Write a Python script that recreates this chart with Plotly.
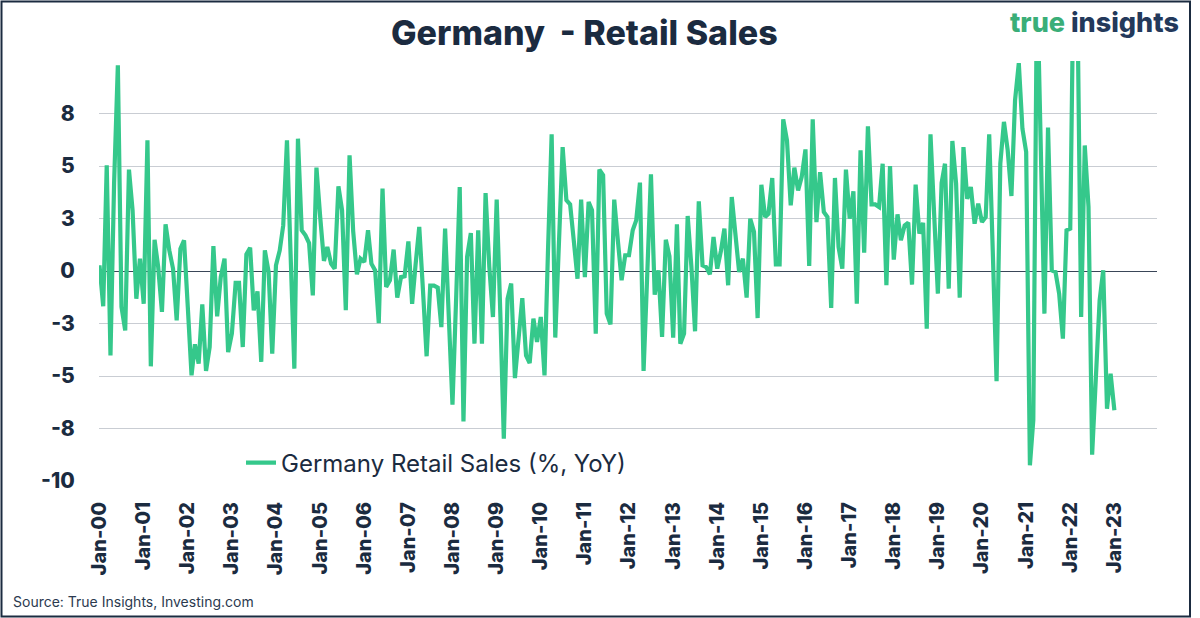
import pandas as pd
import plotly.graph_objects as go

# ---- data (Germany retail sales, % YoY, monthly Jan-2000 .. Jan-2023) ----
sales_2000_2005 = [
    0.27, -1.68, 5.03, -4.02, 4.2, 9.8, -1.71, -2.83, 4.83, 2.89, -1.32, 0.59,
    -1.56, 6.22, -4.54, 1.49, 0.19, -1.95, 2.22, 0.98, 0.11, -2.35, 1.06, 1.46,
    -1.71, -4.97, -3.49, -4.41, -1.59, -4.76, -3.62, 1.19, -2.16, -0.29, 0.59, -3.86,
    -2.98, -0.57, -0.57, -3.62, 0.79, 1.11, -1.87, -0.97, -4.33, 0.98, -0.05, -3.94,
    0.27, 0.98, 2.17, 6.22, 0.8, -4.65, 6.3, 1.94, 1.70, 1.33, -1.16, 4.92,
    2.57, 0.48, 1.14, 0.35, 0.11, 4.03, 2.89, -1.87, 5.51, 1.9, -0.16, 0.59,
]
sales_2006_2011 = [
    0.43, 1.94, 0.35, 0.03, -2.48, 3.92, -0.76, -0.44, 1.02, -1.27, -0.29, -0.25,
    1.41, -1.56, 0.27, 2.10, -0.84, -4.06, -0.70, -0.70, -0.79, -2.67, 2.02, -2.19,
    -6.37, -1.19, 4.0, -7.16, 0.67, 1.81, -3.46, 1.94, -3.46, 3.71, 0.19, -2.19,
    3.40, -2.19, -7.98, -1.32, -0.60, -5.10, -3.14, -1.29, -4.02, -4.38, -2.27, -3.38,
    -2.19, -4.97, 0.83, 6.51, -3.17, 1.38, 5.90, 3.37, 3.17, 1.46, -0.37, 3.40,
    -0.29, 3.29, 2.89, -2.98, 4.83, 4.56, -2.03, -2.54, 3.40, 1.46, -0.44, 0.75,
]
sales_2012_2017 = [
    0.75, 1.94, 2.41, 4.21, -4.76, -0.05, 4.60, -1.13, 0.03, -3.14, 1.49, 0.7,
    -3.17, 2.22, -3.46, -2.98, 2.62, 0.19, -2.87, 3.32, 0.27, 0.19, -0.16, 1.62,
    0.11, 0.98, 2.02, -0.68, 3.52, 1.70, -0.05, 0.59, -1.27, 2.49, 1.86, -2.24,
    4.11, 2.57, 2.73, 4.43, 0.32, 0.32, 7.22, 6.22, 3.13, 4.92, 3.84, 4.48,
    5.79, 0.24, 7.22, 2.33, 4.71, 2.81, 2.57, -1.76, 4.43, 1.14, 0.11, 4.83,
    2.49, 3.79, -1.56, 5.75, 0.87, 6.89, 3.17, 3.17, 3.05, 5.11, -0.68, 5.00,
]
sales_2018_2023 = [
    0.54, 2.70, 1.46, 2.17, 2.30, -0.65, 4.11, 1.78, 2.29, -2.75, 6.51, 2.73,
    -1.08, 4.19, 5.11, -0.84, 6.19, 4.16, -1.27, 5.90, 3.44, 4.0, 2.25, 3.21,
    2.33, 2.57, 6.51, 0.67, -5.25, 5.11, 7.10, 5.75, 3.57, 8.13, 9.9, 6.78,
    5.67, -9.25, -7.1, 14.0, 7.0, -2.03, 6.83, 0.03, -0.05, -1.08, -3.22, 1.94,
    2.02, 16.0, 13.0, -2.19, 5.98, 3.05, -8.75, -5.05, -1.40, 0.03, -6.56, -4.89,
    -6.63,
]
values = sales_2000_2005 + sales_2006_2011 + sales_2012_2017 + sales_2018_2023
months = pd.date_range("2000-01-01", periods=len(values), freq="MS")

tick_dates = pd.date_range("2000-01-01", "2023-01-01", freq="YS")
tick_labels = ["Jan-%02d" % (d.year % 100) for d in tick_dates]
y_tickvals = [7.5, 5, 2.5, 0, -2.5, -5, -7.5, -10]
y_ticklabels = ["8", "5", "3", "0", "-3", "-5", "-8", "-10"]

series_name = "Germany Retail Sales (%, YoY)"
title_text = "Germany\u00a0 - Retail Sales"
source_text = "Source: True Insights, Investing.com"

# ---- style ----
NAVY = "#1b2b40"
GREEN = "#35c88b"
GRID = "#c9cdd3"
FONT = "Inter"

W, H = 1200, 618
ML, MR, MT, MB = 99, 43, 61, 137
PW, PH = W - ML - MR, H - MT - MB


def px_x(px):
    return (px - ML) / PW


def px_y(py):
    return (H - MB - py) / PH


fig = go.Figure()
fig.add_trace(go.Scatter(
    x=months, y=values, mode="lines", name=series_name,
    line=dict(color=GREEN, width=4.2),
))

fig.update_layout(
    width=W, height=H,
    margin=dict(l=ML, r=MR, t=MT, b=MB),
    paper_bgcolor="white", plot_bgcolor="white",
    showlegend=True,
    legend=dict(
        x=px_x(241), y=px_y(463), xanchor="left", yanchor="middle",
        bgcolor="rgba(0,0,0,0)",
        font=dict(family=FONT, size=24, color=NAVY),
    ),
    xaxis=dict(
        type="date",
        range=["1999-12-28", "2023-12-20"],
        tickvals=list(tick_dates), ticktext=tick_labels,
        tickangle=-90,
        tickfont=dict(family=FONT, size=20, color=NAVY, weight=800),
        ticks="outside", ticklen=12, tickcolor="rgba(0,0,0,0)",
        showgrid=False, showline=False, zeroline=False,
    ),
    yaxis=dict(
        range=[-10, 10],
        tickvals=y_tickvals, ticktext=y_ticklabels,
        tickfont=dict(family=FONT, size=21, color=NAVY, weight=800),
        ticks="outside", ticklen=19, tickcolor="rgba(0,0,0,0)",
        showgrid=True, gridcolor=GRID, gridwidth=1.3,
        zeroline=True, zerolinecolor="#3a4658", zerolinewidth=1.3,
        showline=False,
    ),
)

fig.add_annotation(
    text=title_text, xref="paper", yref="paper",
    x=px_x(584), y=px_y(32), xanchor="center", yanchor="middle",
    showarrow=False, font=dict(family=FONT, size=34, color=NAVY, weight=800),
)
fig.add_annotation(
    text="<span style='color:#3aae78'>true</span> insights",
    xref="paper", yref="paper",
    x=px_x(1181), y=px_y(22), xanchor="right", yanchor="middle",
    showarrow=False, font=dict(family=FONT, size=27, color="#23395b", weight=800),
)
fig.add_annotation(
    text=source_text, xref="paper", yref="paper",
    x=px_x(11), y=px_y(601), xanchor="left", yanchor="middle",
    showarrow=False, font=dict(family=FONT, size=14, color="#2b3a4f"),
)
fig.add_shape(
    type="rect", xref="paper", yref="paper",
    x0=px_x(1.5), x1=px_x(1190), y0=px_y(616.5), y1=px_y(1.5),
    line=dict(color=NAVY, width=2), fillcolor="rgba(0,0,0,0)", layer="below",
)

fig.write_html("out.html")
